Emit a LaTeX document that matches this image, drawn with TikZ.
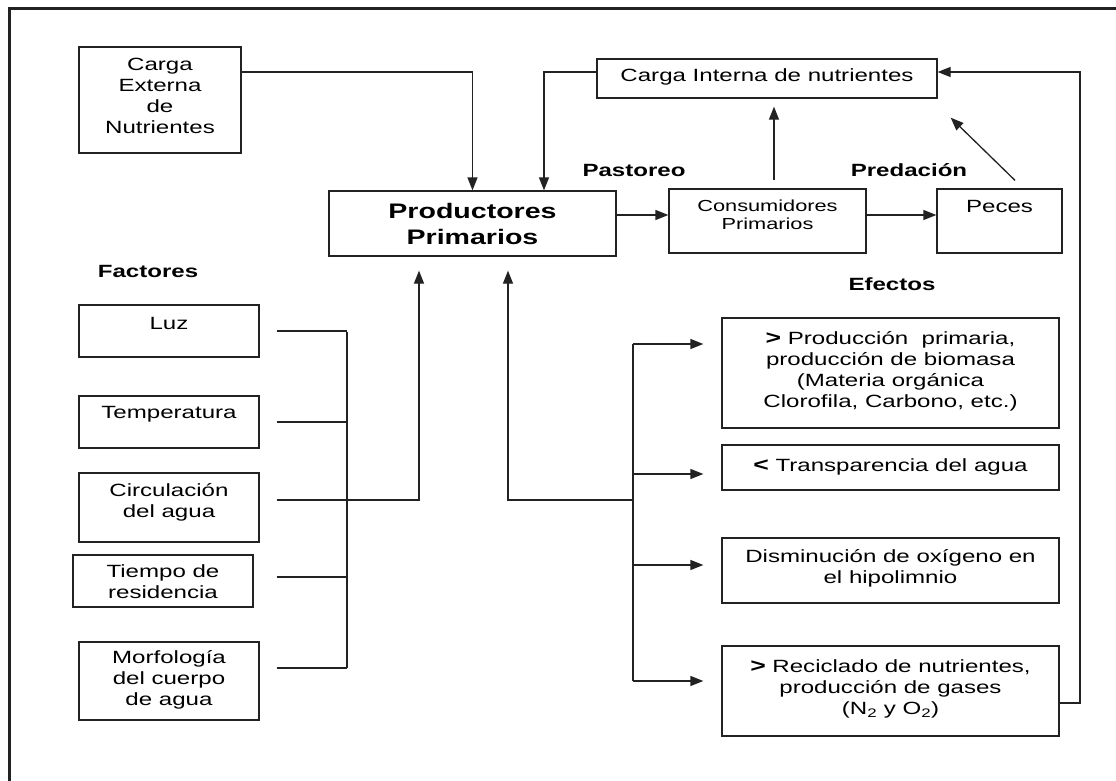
\documentclass[tikz,border=0pt]{standalone}
\usepackage{fontspec}
\setmainfont{Liberation Sans}[FakeStretch=1.36]
\usetikzlibrary{arrows.meta}
\definecolor{ink}{HTML}{222222}
\tikzset{
  box/.style={draw=ink, line width=1.3pt, inner sep=0pt},
  txt/.style={inner sep=0pt, align=center, text=black, font=\fontsize{17.7}{20.9}\selectfont},
  lbl/.style={inner sep=0pt, text=black, font=\fontsize{17.7}{20.9}\selectfont\bfseries},
  ln/.style={draw=ink, line width=1.3pt},
  arr/.style={ln, -{Triangle[length=13pt,width=10pt]}},
}
\newcommand\bigsym[1]{\textbf{\fontsize{19.5}{20.9}\selectfont #1}}
\begin{document}
\begin{tikzpicture}[x=1pt, y=-1pt]
\useasboundingbox (0,0) rectangle (1116,780);
% outer frame (left and top edges)
\draw[ink, line width=3pt] (9,781) -- (9,8) -- (1117,8);

% boxes
\node[box, minimum width=162pt, minimum height=106pt] (ext) at (160,100) {};
\node[box, minimum width=340pt, minimum height=39pt] (cin) at (767,78.5) {};
\node[box, minimum width=287pt, minimum height=65pt] (prod) at (472.5,223.5) {};
\node[box, minimum width=197pt, minimum height=64pt] (cons) at (767.5,221) {};
\node[box, minimum width=125pt, minimum height=64pt] (pec) at (999.5,221) {};
\node[box, minimum width=180pt, minimum height=52pt] (luz) at (169,331) {};
\node[box, minimum width=180pt, minimum height=52pt] (temp) at (169,422) {};
\node[box, minimum width=180pt, minimum height=69pt] (circ) at (169,507.5) {};
\node[box, minimum width=180pt, minimum height=52pt] (tiem) at (163,581) {};
\node[box, minimum width=180pt, minimum height=78pt] (morf) at (169,681) {};
\node[box, minimum width=337pt, minimum height=110pt] (ef1) at (890.5,373) {};
\node[box, minimum width=337pt, minimum height=45pt] (ef2) at (890.5,467.5) {};
\node[box, minimum width=337pt, minimum height=65pt] (ef3) at (890.5,570.5) {};
\node[box, minimum width=337pt, minimum height=90pt] (ef4) at (890.5,691) {};

% texts
\node[txt] (extT) at (160,96) {Carga\\Externa\\de\\Nutrientes};
\node[txt] (cinT) at (767,77) {Carga Interna de nutrientes};
\node[txt, font=\fontsize{21}{26}\selectfont\bfseries] (prodT) at (472.5,224) {Productores\\Primarios};
\node[txt, font=\fontsize{16}{18}\selectfont] (consT) at (767.5,215) {Consumidores\\Primarios};
\node[txt] (pecT) at (999.5,206) {Peces};
\node[txt] (luzT) at (169,323) {Luz};
\node[txt] (tempT) at (169,414) {Temperatura};
\node[txt] (circT) at (169,502) {Circulación\\del agua};
\node[txt] (tiemT) at (163,582) {Tiempo de\\residencia};
\node[txt] (morfT) at (169,680) {Morfología\\del cuerpo\\de agua};
\node[txt] (ef1T) at (890.5,371) {\bigsym{>} Producción~ primaria,\\producción de biomasa\\(Materia orgánica\\Clorofila, Carbono, etc.)};
\node[txt] (ef2T) at (890.5,467) {\bigsym{<} Transparencia del agua};
\node[txt] (ef3T) at (890.5,568) {Disminución de oxígeno en\\el hipolimnio};
\node[txt] (ef4T) at (890.5,689) {\bigsym{>} Reciclado de nutrientes,\\producción de gases\\(N\textsubscript{2} y O\textsubscript{2})};

% labels
\node[lbl] (past) at (634,170) {Pastoreo};
\node[lbl] (pred) at (909,170) {Predación};
\node[lbl] (efec) at (892,284) {Efectos};
\node[lbl] (fact) at (148,271) {Factores};

% helper coordinates
\coordinate (yA) at (0,72);
\coordinate (yB) at (0,215);
\coordinate (fb) at (1080,0);
\coordinate (bL) at (347,332);
\coordinate (bL2) at (347,668);
\coordinate (r1) at (633,344);
\coordinate (r2) at (633,474);
\coordinate (r3) at (633,565);
\coordinate (r4) at (633,681);
\coordinate (rj) at (633,500);

% top connectors
\draw[arr] (ext.east |- yA) -| (prod.north);
\draw[arr] (cin.west |- yA) -| ([xshift=71.5pt]prod.north);
\draw[arr] (prod.east |- yB) -- (cons.west |- yB);
\draw[arr] (cons.east |- yB) -- (pec.west |- yB);
\draw[arr, shorten <=8pt, shorten >=8pt] ([xshift=6.5pt]cons.north) -- ([xshift=7pt]cin.south);
\draw[arr] ([xshift=15.5pt,yshift=8pt]pec.north) -- ([xshift=13pt,yshift=-19pt]cin.south east);
\draw[arr] ([yshift=-12pt]ef4.east) -| (fb |- yA) -- (cin.east |- yA);

% factors bus
\draw[ln] (bL) -- (bL2);
\draw[ln] ([xshift=17pt]luz.east) -- (luz.east -| bL);
\draw[ln] ([xshift=17pt]temp.east) -- (temp.east -| bL);
\draw[ln] ([xshift=23pt,yshift=4pt]tiem.east) -- ([yshift=4pt]tiem.east -| bL);
\draw[ln] ([xshift=17pt,yshift=13pt]morf.east) -- ([yshift=13pt]morf.east -| bL);
\draw[arr, shorten >=14pt] ([xshift=17pt,yshift=7.5pt]circ.east) -| ([xshift=-53.5pt]prod.south);

% effects bus
\draw[ln] (r1) -- (r4);
\draw[arr, shorten >=18pt] (r1) -- (r1 -| ef1.west);
\draw[arr, shorten >=18pt] (r2) -- (r2 -| ef2.west);
\draw[arr, shorten >=18pt] (r3) -- (r3 -| ef3.west);
\draw[arr, shorten >=18pt] (r4) -- (r4 -| ef4.west);
\draw[arr, shorten >=14pt] (rj) -| ([xshift=35.5pt]prod.south);
\end{tikzpicture}
\end{document}
